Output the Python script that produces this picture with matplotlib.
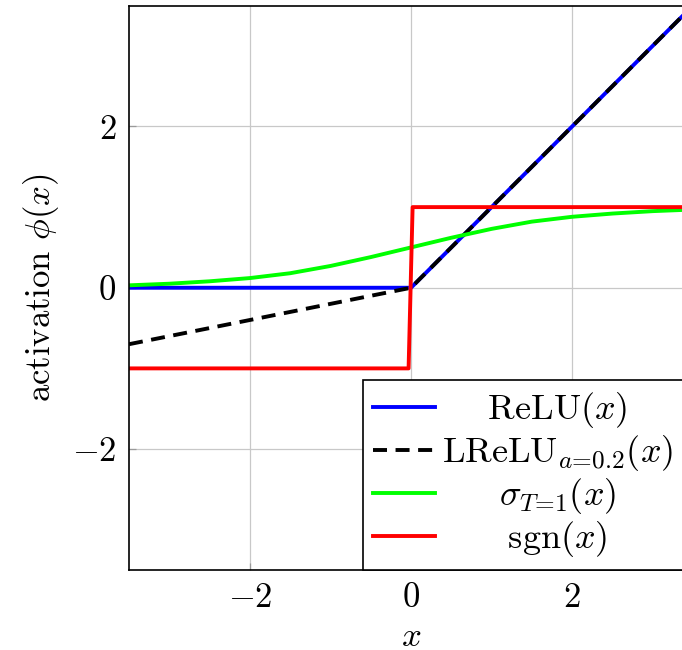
import numpy as np
import matplotlib
matplotlib.use("Agg")
import matplotlib.pyplot as plt

plt.rcParams["font.family"] = "serif"
plt.rcParams["font.serif"] = ["cmr10"]
plt.rcParams["mathtext.fontset"] = "cm"
plt.rcParams["axes.formatter.use_mathtext"] = True
plt.rcParams["font.size"] = 25

# values
relu_x = [-3.5, 0.0, 3.5]
relu_y = [0.0, 0.0, 3.5]

lrelu_x = [-3.5, 0.0, 3.5]
lrelu_y = [-0.7, 0.0, 3.5]

sig_x = [-3.5, -3.0, -2.5, -2.0, -1.5, -1.0, -0.5, 0.0, 0.5, 1.0, 1.5, 2.0, 2.5, 3.0, 3.5]
sig_y = [0.03, 0.05, 0.08, 0.12, 0.18, 0.27, 0.38, 0.50, 0.62, 0.73, 0.82, 0.88, 0.92, 0.95, 0.97]

sgn_x = [-3.5, -0.03, 0.02, 3.5]
sgn_y = [-1.0, -1.0, 1.0, 1.0]

# TeX puts no space around "=" in subscripts
nosp = r"\hspace{-0.2}=\hspace{-0.2}"
labels = [r"$\mathrm{ReLU}(x)$", r"$\mathrm{LReLU}_{a" + nosp + r"0.2}(x)$",
          r"$\sigma_{T" + nosp + r"1}(x)$", r"$\mathrm{sgn}(x)$"]
ticks = [-2, 0, 2]

fig = plt.figure(figsize=(6.82, 6.5), dpi=100)
ax = fig.add_axes([129 / 682, 80 / 650, (693 - 129) / 682, (644.5 - 80) / 650])

lw = 2.8
ax.plot(relu_x, relu_y, color=(0, 0, 1), lw=lw, label=labels[0])
ax.plot(lrelu_x, lrelu_y, color="black", lw=lw, dashes=(3.6, 2.2), label=labels[1])
ax.plot(sig_x, sig_y, color=(0, 1, 0), lw=lw, label=labels[2])
ax.plot(sgn_x, sgn_y, color=(1, 0, 0), lw=lw, label=labels[3])

ax.set_xlim(-3.5, 3.5)
ax.set_ylim(-3.5, 3.5)
ax.set_xticks(ticks)
ax.set_yticks(ticks)
ax.grid(True, color="#c8c8c8", lw=0.9)
ax.set_axisbelow(True)
ax.tick_params(direction="in", length=5, width=0.9, color="#9a9a9a", pad=9)
for s in ax.spines.values():
    s.set_linewidth(1.2)

ax.set_xlabel(r"$x$", labelpad=5)
ax.set_ylabel(r"activation $\phi(x)$", labelpad=8)

# legend's right border sits just outside the figure, as in the original
leg = ax.legend(loc="lower right", bbox_to_anchor=(0.984, 0), borderaxespad=0,
                fontsize=26, fancybox=False, framealpha=1, edgecolor="black",
                handlelength=1.7, handletextpad=0.2, labelspacing=0.08,
                borderpad=0.3)
leg.get_frame().set_linewidth(1.2)

# center the legend entries like the original
fig.canvas.draw()
texts = leg.get_texts()
widths = [t.get_window_extent().width for t in texts]
texts[0].set_text(r"$\hspace{1}" + labels[0][1:])
fig.canvas.draw()
em = texts[0].get_window_extent().width - widths[0]
wmax = max(widths)
for t, lab, w in zip(texts, labels, widths):
    pad = (wmax - w) / 2 / em
    t.set_text(r"$\hspace{%.3f}" % pad + lab[1:])

fig.savefig("out.png", dpi=100)
